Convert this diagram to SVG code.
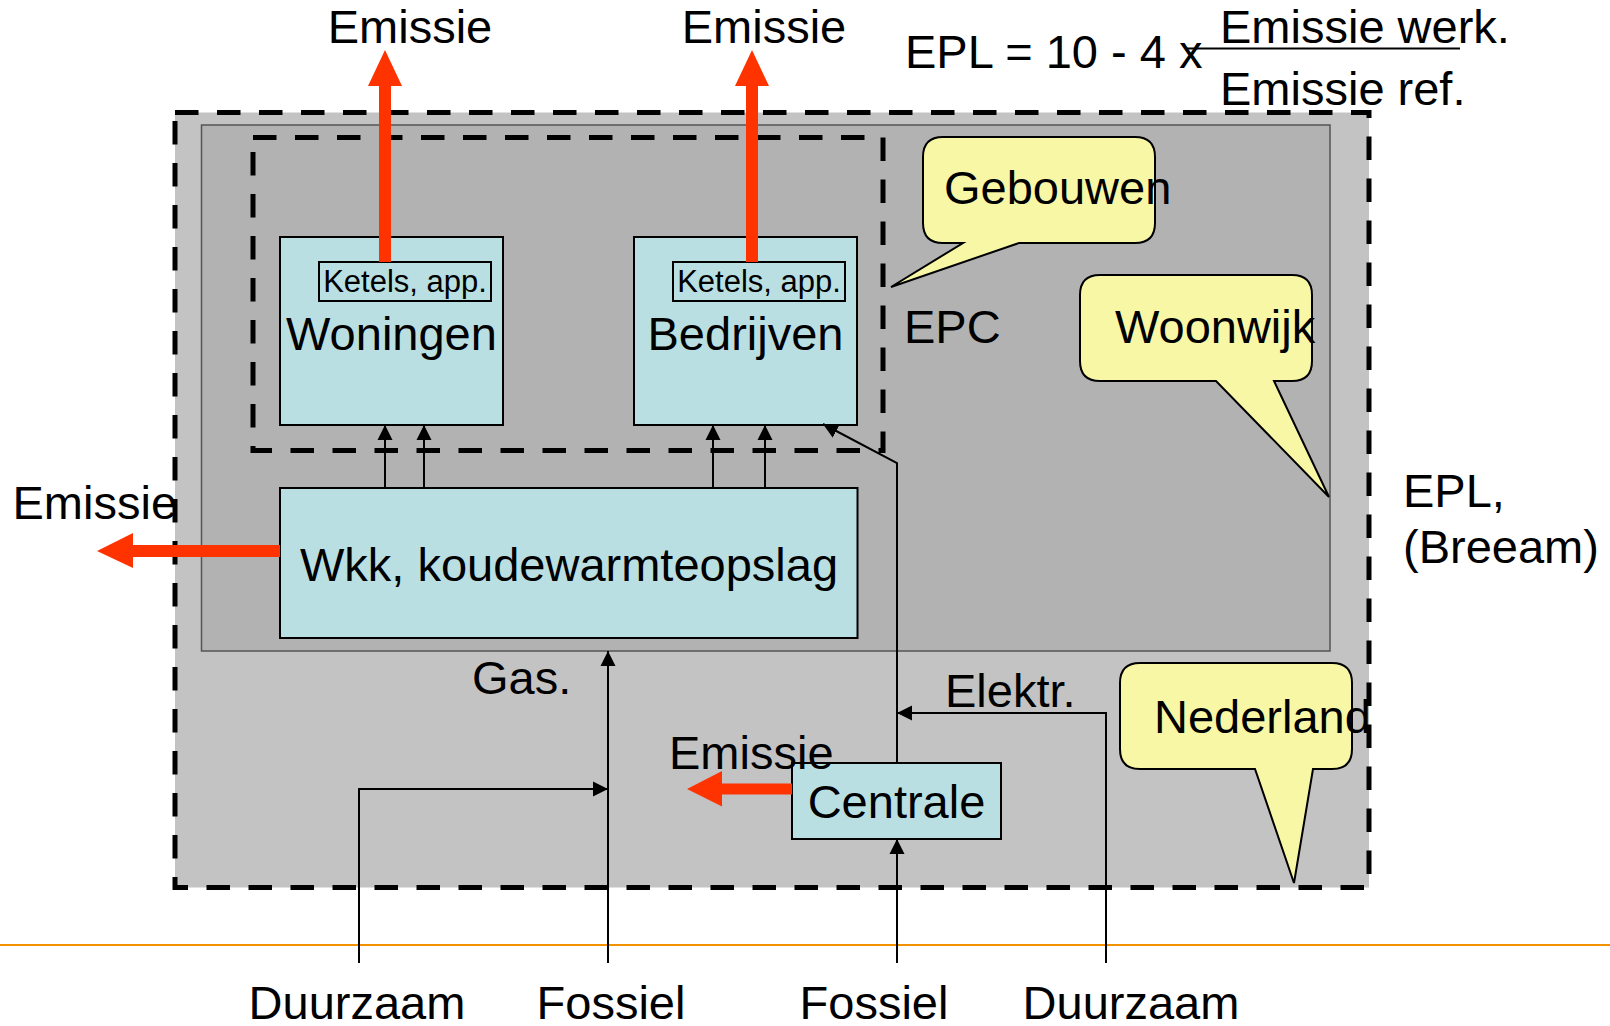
<svg xmlns="http://www.w3.org/2000/svg" width="1610" height="1026" viewBox="0 0 1610 1026">
<style>
text{font-family:"Liberation Sans",Arial,sans-serif;fill:#000}
.t{font-size:47px}
.s{font-size:31px}
.box{fill:#b9dfe3;stroke:#000;stroke-width:2}
.call{fill:#f7f7a6;stroke:#000;stroke-width:2}
.dash{fill:none;stroke:#000;stroke-width:5;stroke-dasharray:23.5 18.5}
.con{fill:none;stroke:#000;stroke-width:2;marker-end:url(#ah)}
.red{fill:#ff3300}
</style>
<defs>
<marker id="ah" markerUnits="userSpaceOnUse" markerWidth="16" markerHeight="16" viewBox="0 0 16 16" refX="15" refY="8" orient="auto">
<path d="M0,0.5 L15,8 L0,15.5 Z" fill="#000"/>
</marker>
</defs>
<rect width="1610" height="1026" fill="#fff"/>
<line x1="0" y1="945" x2="1610" y2="945" stroke="#f39200" stroke-width="2"/>
<g id="zone-epl">
<rect x="175" y="112.5" width="1194" height="775" fill="#c3c3c3"/>
<rect x="201.5" y="125" width="1128.5" height="526" fill="#b2b2b2" stroke="#555" stroke-width="1.5"/>
</g>
<g id="zone-epc">
<rect class="dash" x="253" y="137.5" width="630" height="313"/>
</g>
<g id="outer-border">
<rect class="dash" x="175" y="112.5" width="1194" height="775"/>
</g>
<g id="woningen">
<rect class="box" x="280" y="237" width="223" height="188"/>
<rect x="319" y="262" width="172" height="39" fill="none" stroke="#000" stroke-width="2"/>
<text class="s" x="405" y="292" text-anchor="middle">Ketels, app.</text>
<text class="t" x="391.5" y="350" text-anchor="middle">Woningen</text>
</g>
<g id="bedrijven">
<rect class="box" x="634" y="237" width="223" height="188"/>
<rect x="673" y="262" width="172" height="39" fill="none" stroke="#000" stroke-width="2"/>
<text class="s" x="759" y="292" text-anchor="middle">Ketels, app.</text>
<text class="t" x="745.5" y="350" text-anchor="middle">Bedrijven</text>
</g>
<g id="wkk">
<rect class="box" x="280" y="488" width="577.5" height="150"/>
<text class="t" x="569" y="581" text-anchor="middle">Wkk, koudewarmteopslag</text>
</g>
<g id="centrale">
<rect class="box" x="792" y="763" width="209" height="76"/>
<text class="t" x="896.5" y="818" text-anchor="middle">Centrale</text>
</g>
<g id="gebouwen">
<path class="call" d="M943,137 H1135 Q1155,137 1155,157 V223 Q1155,243 1135,243 H1019 L891,287 L963,243 H943 Q923,243 923,223 V157 Q923,137 943,137 Z"/>
<text class="t" x="944" y="204">Gebouwen</text>
</g>
<g id="woonwijk">
<path class="call" d="M1100,275 H1292 Q1312,275 1312,295 V361 Q1312,381 1292,381 H1274 L1329,497 L1216,381 H1100 Q1080,381 1080,361 V295 Q1080,275 1100,275 Z"/>
<text class="t" x="1115" y="343">Woonwijk</text>
</g>
<g id="nederland">
<path class="call" d="M1140,663 H1332 Q1352,663 1352,683 V749 Q1352,769 1332,769 H1313 L1294,883 L1255,769 H1140 Q1120,769 1120,749 V683 Q1120,663 1140,663 Z"/>
<text class="t" x="1154" y="733">Nederland</text>
</g>
<g id="connectors">
<path class="con" d="M385,488 V425"/>
<path class="con" d="M424,488 V425"/>
<path class="con" d="M713,488 V425"/>
<path class="con" d="M765,488 V425"/>
<path class="con" d="M359,963 V789 H608"/>
<path class="con" d="M608,963 V651"/>
<path class="con" d="M897,963 V839"/>
<path class="con" d="M1106,963 V713 H897"/>
<path class="con" d="M897,763 V463 L823,424"/>
<polygon class="red" points="379,262 379,86 368,86 385,50 402,86 391,86 391,262"/>
<polygon class="red" points="746,262 746,86 735,86 752,50 769,86 758,86 758,262"/>
<polygon class="red" points="280,545 133,545 133,533 97,551 133,568 133,557 280,557"/>
<polygon class="red" points="792,783.5 722,783.5 722,771 687,789 722,806.5 722,794.5 792,794.5"/>
</g>
<g id="labels">
<text class="t" x="410" y="43" text-anchor="middle">Emissie</text>
<text class="t" x="764" y="43" text-anchor="middle">Emissie</text>
<text class="t" x="12.5" y="518.5">Emissie</text>
<text class="t" x="669" y="769">Emissie</text>
<text class="t" x="905" y="68">EPL = 10 - 4 x</text>
<line x1="1185" y1="48.5" x2="1460" y2="48.5" stroke="#000" stroke-width="2"/>
<text class="t" x="1220" y="43">Emissie werk.</text>
<text class="t" x="1220" y="105">Emissie ref.</text>
<text class="t" x="904" y="343">EPC</text>
<text class="t" x="1403" y="507">EPL,</text>
<text class="t" x="1403" y="563">(Breeam)</text>
<text class="t" x="472" y="694">Gas.</text>
<text class="t" x="945" y="707">Elektr.</text>
<text class="t" x="357" y="1019" text-anchor="middle">Duurzaam</text>
<text class="t" x="611" y="1019" text-anchor="middle">Fossiel</text>
<text class="t" x="874" y="1019" text-anchor="middle">Fossiel</text>
<text class="t" x="1131" y="1019" text-anchor="middle">Duurzaam</text>
</g>
</svg>
